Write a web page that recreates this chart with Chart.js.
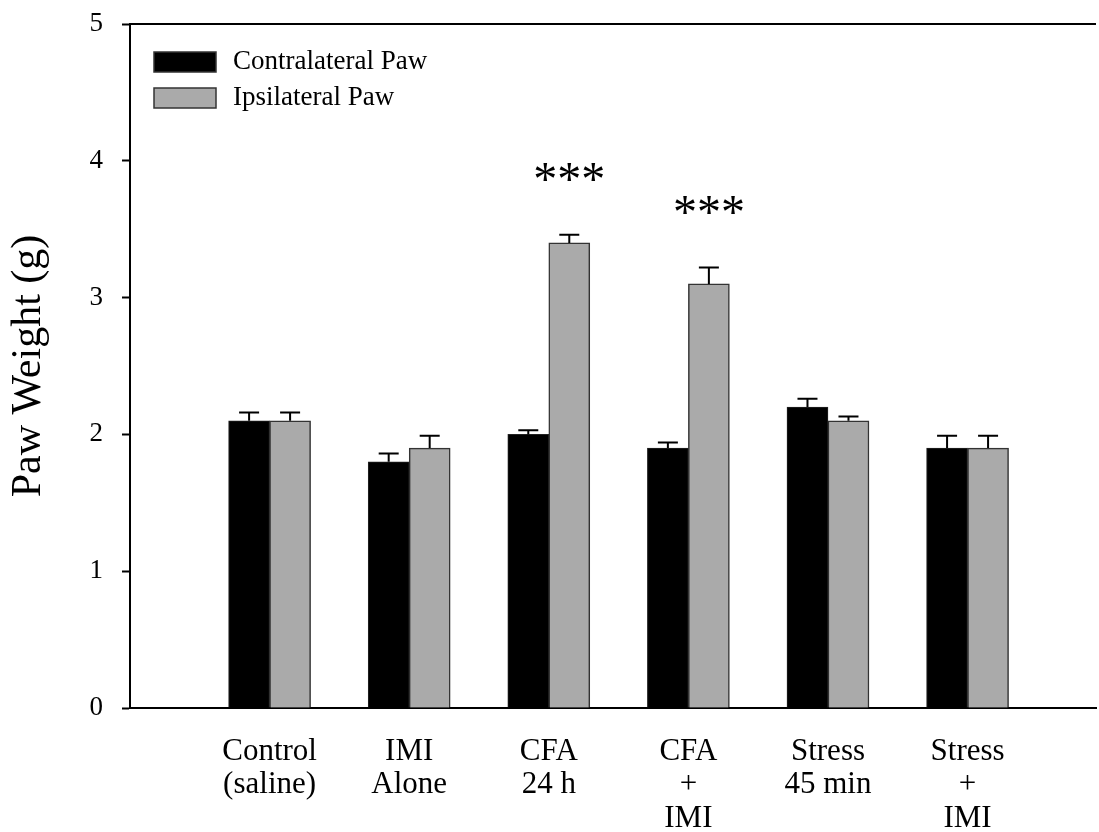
<!DOCTYPE html>
<html>
<head>
<meta charset="utf-8">
<script src="https://cdn.jsdelivr.net/npm/chart.js@4.4.1/dist/chart.umd.min.js"></script>
<style>
  html, body { margin: 0; padding: 0; background: #fff; }
  #wrap { width: 1099px; height: 832px; position: relative; }
</style>
</head>
<body>
<div id="wrap"><canvas id="pawChart"></canvas></div>
<script>
// data
const groups = [
    ['Control', '(saline)'],
    ['IMI', 'Alone'],
    ['CFA', '24 h'],
    ['CFA', '+', 'IMI'],
    ['Stress', '45 min'],
    ['Stress', '+', 'IMI']
];
const contraLabel = 'Contralateral Paw';
const ipsiLabel = 'Ipsilateral Paw';
const contraValues = [2.1, 1.8, 2.0, 1.9, 2.2, 1.9];
const contraErrors = [0.06, 0.06, 0.03, 0.04, 0.06, 0.09];
const ipsiValues = [2.1, 1.9, 3.4, 3.1, 2.1, 1.9];
const ipsiErrors = [0.06, 0.09, 0.06, 0.12, 0.03, 0.09];
const ipsiSignif = ['', '', '***', '***', '', ''];
const yTicks = [0, 1, 2, 3, 4, 5];

const serif = '"Liberation Serif", "Times New Roman", serif';

// upper error bars + significance stars
const errorBars = {
    id: 'errorBars',
    afterDatasetsDraw(chart) {
        const ctx = chart.ctx;
        const y = chart.scales.y;
        ctx.save();
        ctx.strokeStyle = '#000';
        ctx.lineWidth = 2;
        chart.data.datasets.forEach((ds, di) => {
            const meta = chart.getDatasetMeta(di);
            meta.data.forEach((bar, i) => {
                const top = y.getPixelForValue(ds.data[i].y + ds.errors[i]);
                ctx.beginPath();
                ctx.moveTo(bar.x, bar.y);
                ctx.lineTo(bar.x, top);
                ctx.moveTo(bar.x - 10, top);
                ctx.lineTo(bar.x + 10, top);
                ctx.stroke();
                if (ds.signif && ds.signif[i]) {
                    ctx.fillStyle = '#000';
                    ctx.font = '48px ' + serif;
                    ctx.textAlign = 'center';
                    ctx.textBaseline = 'alphabetic';
                    ctx.fillText(ds.signif[i], bar.x, top - 40);
                }
            });
        });
        ctx.restore();
    }
};

// top frame line and the boxed legend in the upper left
const frameAndLegend = {
    id: 'frameAndLegend',
    afterDraw(chart) {
        const ctx = chart.ctx;
        const area = chart.chartArea;
        ctx.save();
        ctx.strokeStyle = '#000';
        ctx.lineWidth = 2;
        ctx.beginPath();
        ctx.moveTo(area.left, area.top);
        ctx.lineTo(area.right, area.top);
        ctx.stroke();

        ctx.font = '27px ' + serif;
        ctx.textBaseline = 'middle';
        ctx.textAlign = 'left';
        chart.data.datasets.forEach((ds, i) => {
            const bx = area.left + 24, by = area.top + 28 + i * 36;
            ctx.fillStyle = ds.backgroundColor;
            ctx.fillRect(bx, by, 62, 20);
            ctx.lineWidth = 1.5;
            ctx.strokeStyle = '#333';
            ctx.strokeRect(bx, by, 62, 20);
            ctx.fillStyle = '#000';
            ctx.fillText(ds.label, bx + 79, by + 10);
        });
        ctx.restore();
    }
};

const ctx = document.getElementById('pawChart').getContext('2d');
new Chart(ctx, {
    type: 'bar',
    data: {
        datasets: [{
            label: contraLabel,
            data: contraValues.map((v, i) => ({ x: i + 1, y: v })),
            errors: contraErrors,
            backgroundColor: '#000000',
            borderColor: '#222222',
            borderWidth: 1
        }, {
            label: ipsiLabel,
            data: ipsiValues.map((v, i) => ({ x: i + 1, y: v })),
            errors: ipsiErrors,
            signif: ipsiSignif,
            backgroundColor: '#aaaaaa',
            borderColor: '#333333',
            borderWidth: 1.5
        }]
    },
    options: {
        responsive: true,
        maintainAspectRatio: false,
        animation: false,
        barThickness: 41,
        layout: {
            autoPadding: false,
            padding: { top: 24, right: 3, left: 0, bottom: 0 }
        },
        plugins: {
            legend: { display: false },
            tooltip: { enabled: false }
        },
        scales: {
            x: {
                type: 'linear',
                offset: false,
                min: 0,
                max: 6.92,
                afterBuildTicks: scale => {
                    scale.ticks = groups.map((_, i) => ({ value: i + 1 }));
                },
                afterFit: scale => { scale.height = 124; },
                grid: { display: false },
                border: { display: true, color: '#000', width: 2 },
                ticks: {
                    autoSkip: false,
                    maxRotation: 0,
                    padding: 19,
                    color: '#000',
                    font: { family: serif, size: 31, lineHeight: 1.08 },
                    callback: value => groups[value - 1]
                }
            },
            y: {
                min: 0,
                max: 5,
                afterBuildTicks: scale => {
                    scale.ticks = yTicks.map(v => ({ value: v }));
                },
                afterFit: scale => {
                    scale.width = 130;
                    scale.paddingTop = 0;
                    scale.paddingBottom = 0;
                },
                grid: {
                    drawOnChartArea: false,
                    drawTicks: true,
                    tickLength: 8,
                    tickWidth: 2,
                    tickColor: '#000'
                },
                border: { display: true, color: '#000', width: 2 },
                ticks: {
                    padding: 19,
                    color: '#000',
                    font: { family: serif, size: 27 }
                },
                title: {
                    display: true,
                    text: 'Paw Weight (g)',
                    color: '#000',
                    font: { family: serif, size: 42 },
                    padding: { top: 4, bottom: 0 }
                }
            }
        }
    },
    plugins: [errorBars, frameAndLegend]
});
</script>
</body>
</html>
